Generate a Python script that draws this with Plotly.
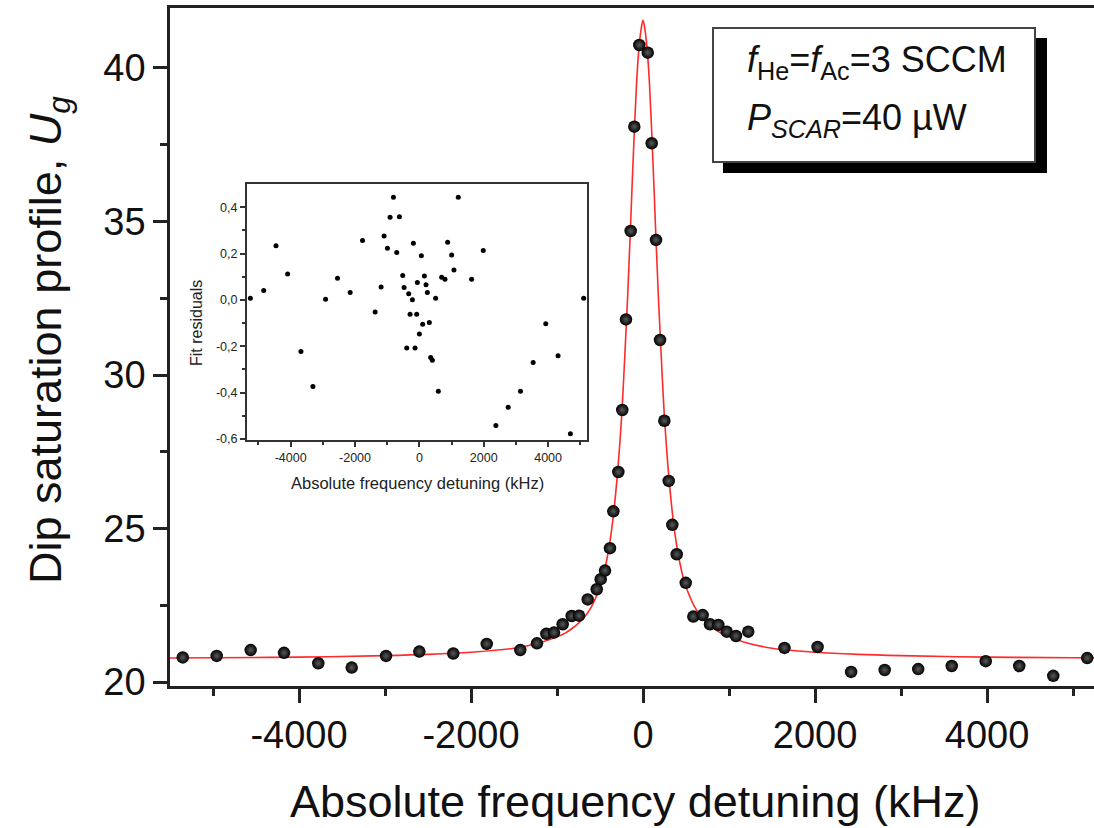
import plotly.graph_objects as go

# ---- main data ----
det_khz = [-5352, -4957, -4562, -4174, -3776, -3387, -2988, -2601, -2206, -1817,
           -1427, -1233, -1124, -1035, -934, -829, -744, -643, -538, -492,
           -442, -384, -345, -287, -241, -198, -143, -101, -43, 55,
           101, 151, 198, 248, 299, 341, 392, 497, 585, 694,
           779, 876, 973, 1081, 1224, 1645, 2030, 2420, 2810, 3200,
           3590, 3985, 4375, 4770, 5165]
dip_ug = [20.80, 20.85, 21.04, 20.95, 20.61, 20.47, 20.85, 20.99, 20.93, 21.24,
          21.04, 21.26, 21.57, 21.61, 21.88, 22.15, 22.16, 22.69, 23.02, 23.35,
          23.63, 24.36, 25.56, 26.84, 28.86, 31.81, 34.69, 38.09, 40.75, 40.50,
          37.55, 34.40, 31.14, 28.51, 26.55, 25.12, 24.16, 23.23, 22.13, 22.18,
          21.88, 21.86, 21.64, 21.50, 21.64, 21.11, 21.14, 20.33, 20.39, 20.42,
          20.52, 20.68, 20.52, 20.20, 20.78]

# ---- fit curve ----
fit_x = [-5500, -5000, -4000, -3000, -2500, -2000, -1500, -1200, -1000, -900,
         -800, -700, -600, -500, -450, -400, -350, -300, -250, -200,
         -175, -150, -125, -100, -75, -50, -25, 0, 25, 50,
         75, 100, 125, 150, 175, 200, 250, 300, 350, 400,
         450, 500, 600, 700, 800, 900, 1000, 1200, 1500, 2000,
         2500, 3000, 4000, 5000, 5500]
fit_y = [20.78, 20.79, 20.81, 20.86, 20.90, 20.97, 21.10, 21.28, 21.47, 21.60,
         21.80, 22.05, 22.45, 23.10, 23.60, 24.30, 25.30, 26.70, 28.60, 31.30,
         32.80, 34.50, 36.30, 38.00, 39.50, 40.55, 41.20, 41.55, 41.20, 40.55,
         39.50, 38.00, 36.30, 34.50, 32.80, 31.30, 28.60, 26.70, 25.30, 24.30,
         23.60, 23.10, 22.45, 22.05, 21.80, 21.60, 21.47, 21.28, 21.10, 20.97,
         20.90, 20.86, 20.81, 20.79, 20.78]

# ---- inset residuals ----
res_x = [-5251, -4837, -4455, -4093, -3680, -3307, -2915, -2543, -2150, -1767,
         -1375, -1189, -1096, -992, -910, -806, -703, -620, -517, -475,
         -393, -331, -289, -217, -186, -134, -83, -62, 0, 62,
         103, 155, 207, 248, 310, 351, 403, 506, 589, 693,
         796, 879, 1003, 1075, 1209, 1623, 1985, 2377, 2760, 3142,
         3535, 3928, 4310, 4693, 5106]
res_y = [0.007, 0.040, 0.233, 0.112, -0.223, -0.374, 0.003, 0.093, 0.032, 0.256,
         -0.053, 0.055, 0.276, 0.223, 0.356, 0.443, 0.204, 0.359, 0.105, 0.053,
         -0.208, 0.026, -0.062, 0.000, 0.244, -0.208, -0.062, 0.075, -0.147, 0.190,
         -0.105, 0.103, 0.065, 0.032, -0.098, -0.249, -0.261, 0.007, -0.395, 0.098,
         0.089, 0.249, 0.194, 0.129, 0.443, 0.089, 0.213, -0.542, -0.464, -0.395,
         -0.270, -0.103, -0.241, -0.578, 0.007]

# ---- tick labels ----
main_xticks = [-4000, -2000, 0, 2000, 4000]
main_xtext = ["-4000", "-2000", "0", "2000", "4000"]
main_yticks = [20, 25, 30, 35, 40]
main_ytext = ["20", "25", "30", "35", "40"]
inset_xticks = [-4000, -2000, 0, 2000, 4000]
inset_xtext = ["-4000", "-2000", "0", "2000", "4000"]
inset_yticks = [-0.6, -0.4, -0.2, 0.0, 0.2, 0.4]
inset_ytext = ["-0,6", "-0,4", "-0,2", "0,0", "0,2", "0,4"]

FONT = "Liberation Sans, Arial, Helvetica, sans-serif"
AX = "#222222"

fig = go.Figure()
fig.add_trace(go.Scatter(x=fit_x, y=fit_y, mode="lines", line=dict(color="#ff2a2a", width=1.6, shape="spline"),
                         hoverinfo="skip", showlegend=False))
fig.add_trace(go.Scatter(x=det_khz, y=dip_ug, mode="markers",
                         marker=dict(size=12.5, color="#000000", line=dict(width=0),
                                     gradient=dict(type="radial", color="#5a5a5a")),
                         showlegend=False))
fig.add_trace(go.Scatter(x=res_x, y=res_y, mode="markers", xaxis="x2", yaxis="y2",
                         marker=dict(size=5, color="#000000", line=dict(width=0)),
                         showlegend=False))

# pixel -> paper helpers (plot area: x 170..1094, y 8..686)
def px(x):
    return (x - 170) / 924.0

def py(y):
    return (686 - y) / 678.0

fig.update_layout(
    width=1094, height=828, autosize=False,
    margin=dict(l=170, r=0, t=8, b=142, pad=0),
    paper_bgcolor="white", plot_bgcolor="white",
    font=dict(family=FONT, color="#111111"),
    xaxis=dict(range=[-5500, 5244], domain=[0, 1], showgrid=False, zeroline=False,
               showline=True, linecolor=AX, linewidth=2.5, mirror=True,
               ticks="outside", ticklen=14, tickwidth=2.5, tickcolor=AX,
               tickmode="array", tickvals=main_xticks, ticktext=main_xtext,
               tickfont=dict(size=38, family=FONT, color="#111111"),
               minor=dict(tickmode="array", tickvals=[-5000, -3000, -1000, 1000, 3000, 5000],
                          ticklen=7, tickwidth=2.5, tickcolor=AX, ticks="outside", showgrid=False)),
    yaxis=dict(range=[19.870, 41.954], domain=[0, 1], showgrid=False, zeroline=False,
               showline=True, linecolor=AX, linewidth=2.5, mirror=False,
               ticks="outside", ticklen=14, tickwidth=2.5, tickcolor=AX,
               tickmode="array", tickvals=main_yticks, ticktext=main_ytext,
               tickfont=dict(size=38, family=FONT, color="#111111"),
               minor=dict(tickmode="array", tickvals=[22.5, 27.5, 32.5, 37.5],
                          ticklen=7, tickwidth=2.5, tickcolor=AX, ticks="outside", showgrid=False)),
    xaxis2=dict(range=[-5356, 5209], domain=[px(247), px(587)], anchor="y2",
                showgrid=False, zeroline=False, showline=True, linecolor="#333333", linewidth=2,
                mirror=True, ticks="outside", ticklen=5, tickwidth=1.5, tickcolor="#333333",
                tickmode="array", tickvals=inset_xticks, ticktext=inset_xtext,
                tickfont=dict(size=12.5, family=FONT, color="#222222"),
                minor=dict(tickmode="array", tickvals=[-5000, -3000, -1000, 1000, 3000, 5000],
                           ticklen=3, tickwidth=1.5, tickcolor="#333333", ticks="outside", showgrid=False)),
    yaxis2=dict(range=[-0.605, 0.5], domain=[py(440), py(184)], anchor="x2",
                showgrid=False, zeroline=False, showline=True, linecolor="#333333", linewidth=2,
                mirror=True, ticks="outside", ticklen=5, tickwidth=1.5, tickcolor="#333333",
                tickmode="array", tickvals=inset_yticks, ticktext=inset_ytext,
                tickfont=dict(size=12.5, family=FONT, color="#222222"),
                minor=dict(tickmode="array", tickvals=[-0.5, -0.3, -0.1, 0.1, 0.3],
                           ticklen=3, tickwidth=1.5, tickcolor="#333333", ticks="outside", showgrid=False)),
)

# legend box with shadow
fig.add_shape(type="rect", xref="paper", yref="paper",
              x0=px(723), x1=px(1047), y0=py(173), y1=py(38),
              fillcolor="#000000", line=dict(width=0))
fig.add_shape(type="rect", xref="paper", yref="paper",
              x0=px(713), x1=px(1035), y0=py(162), y1=py(28),
              fillcolor="white", line=dict(color="#444444", width=2))

fig.add_annotation(xref="paper", yref="paper", x=px(745), y=py(62), xanchor="left", yanchor="middle",
                   text="<i>f</i><sub>He</sub>=<i>f</i><sub>Ac</sub>=3 SCCM", showarrow=False,
                   font=dict(size=36, family=FONT, color="#111111"))
fig.add_annotation(xref="paper", yref="paper", x=px(745), y=py(120), xanchor="left", yanchor="middle",
                   text="<i>P</i><sub><i>SCAR</i></sub>=40 \u00b5W", showarrow=False,
                   font=dict(size=36, family=FONT, color="#111111"))

# axis titles
fig.add_annotation(xref="paper", yref="paper", x=px(635), y=py(801), xanchor="center", yanchor="middle",
                   text="Absolute frequency detuning (kHz)", showarrow=False,
                   font=dict(size=45, family=FONT, color="#111111"))
fig.add_annotation(xref="paper", yref="paper", x=px(48), y=py(340), xanchor="center", yanchor="middle",
                   text="Dip saturation profile, <i>U</i><sub><i>g</i></sub>", textangle=-90, showarrow=False,
                   font=dict(size=45, family=FONT, color="#111111"))
fig.add_annotation(xref="paper", yref="paper", x=px(417), y=py(483), xanchor="center", yanchor="middle",
                   text="Absolute frequency detuning (kHz)", showarrow=False,
                   font=dict(size=16.5, family=FONT, color="#222222"))
fig.add_annotation(xref="paper", yref="paper", x=px(197), y=py(323), xanchor="center", yanchor="middle",
                   text="Fit residuals", textangle=-90, showarrow=False,
                   font=dict(size=16, family=FONT, color="#222222"))

fig.write_html("out.html")
